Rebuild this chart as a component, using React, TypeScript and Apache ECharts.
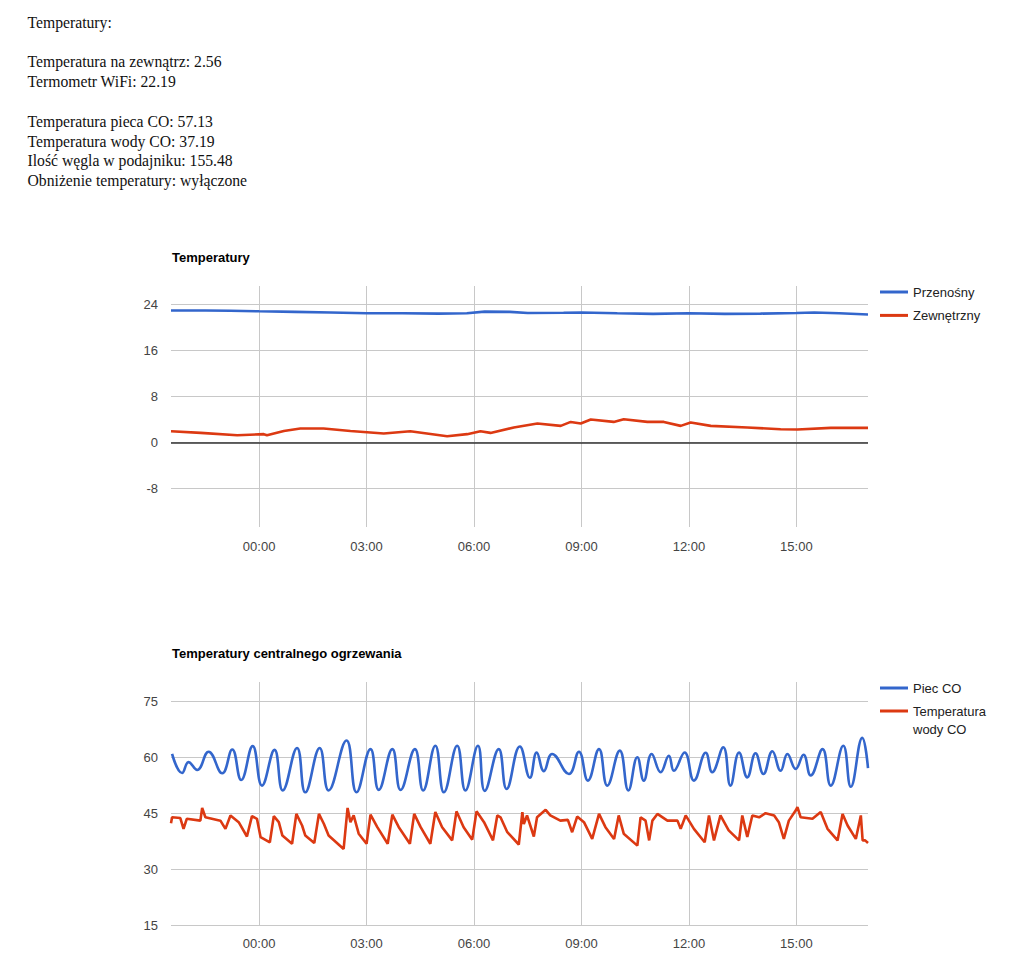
import React, { useEffect, useRef } from "react";
import * as echarts from "echarts";

const FONT = '"Liberation Sans", Arial, sans-serif';

// Readouts shown above the charts
const readoutLines = [
  "Temperatury:",
  "",
  "Temperatura na zewnątrz: 2.56",
  "Termometr WiFi: 22.19",
  "",
  "Temperatura pieca CO: 57.13",
  "Temperatura wody CO: 37.19",
  "Ilość węgla w podajniku: 155.48",
  "Obniżenie temperatury: wyłączone",
];

// x axis: hours relative to midnight
const X_MIN = -2.46;
const X_MAX = 17.0;
const X_TICKS = [0, 3, 6, 9, 12, 15];
const Y1_TICKS = [-8, 0, 8, 16, 24];
const Y2_TICKS = [15, 30, 45, 60, 75];

// Chart 1: Temperatury  [hour, °C]
const przenosny: [number, number][] = [
  [-2.46, 22.95], [-1.5, 22.95], [-0.8, 22.9], [0, 22.8], [1.0, 22.7], [2.0, 22.6],
  [3.0, 22.45], [4.0, 22.45], [5.0, 22.4], [5.8, 22.45], [6.3, 22.75], [7.0, 22.7],
  [7.5, 22.5], [8.5, 22.55], [9.0, 22.6], [10.0, 22.45], [11.0, 22.35], [12.0, 22.45],
  [13.0, 22.35], [14.0, 22.4], [15.0, 22.5], [15.5, 22.6], [16.2, 22.45], [17.0, 22.25],
];

const zewnetrzny: [number, number][] = [
  [-2.46, 1.95], [-1.63, 1.66], [-0.61, 1.26], [0.13, 1.44], [0.22, 1.26], [0.69, 2.0],
  [1.15, 2.42], [1.8, 2.42], [2.55, 2.0], [3.48, 1.55], [4.22, 1.95], [5.25, 1.09],
  [5.81, 1.44], [6.18, 1.95], [6.46, 1.66], [7.11, 2.6], [7.77, 3.29], [8.42, 2.88],
  [8.7, 3.57], [8.98, 3.29], [9.26, 3.98], [9.9, 3.57], [10.18, 4.03], [10.84, 3.57],
  [11.3, 3.57], [11.77, 2.88], [12.05, 3.46], [12.61, 2.88], [13.63, 2.6], [14.56, 2.3],
  [15.03, 2.25], [15.96, 2.53], [17.0, 2.53],
];

// Chart 2: Temperatury centralnego ogrzewania  [hour, °C]
const piecCO: [number, number][] = [
  [-2.43, 60.9], [-2.15, 55.8], [-1.97, 58.7], [-1.73, 56.6], [-1.41, 61.5], [-1.03, 55.7],
  [-0.75, 62.1], [-0.5, 53.9], [-0.18, 63.0], [0.08, 52.4], [0.43, 62.0], [0.66, 51.1],
  [1.06, 62.5], [1.29, 50.6], [1.69, 62.5], [1.94, 51.1], [2.44, 64.5], [2.72, 50.6],
  [3.11, 62.2], [3.34, 51.25], [3.72, 62.2], [3.95, 51.25], [4.35, 62.2], [4.58, 51.1],
  [4.92, 63.1], [5.16, 50.6], [5.53, 63.1], [5.76, 51.1], [6.11, 63.1], [6.3, 51.0],
  [6.69, 62.2], [6.91, 51.5], [7.28, 62.9], [7.56, 54.5], [7.75, 61.3], [7.95, 56.3],
  [8.18, 60.9], [8.65, 55.5], [8.93, 61.5], [9.18, 53.75], [9.49, 62.2], [9.72, 52.4],
  [10.07, 61.8], [10.31, 51.1], [10.56, 60.0], [10.74, 53.75], [10.96, 60.9], [11.21, 56.0],
  [11.44, 60.4], [11.58, 56.4], [11.88, 61.3], [12.14, 53.75], [12.47, 61.2], [12.65, 56.0],
  [12.96, 62.7], [13.16, 52.4], [13.4, 61.3], [13.63, 54.6], [13.86, 61.1], [14.08, 55.5],
  [14.33, 61.6], [14.56, 56.4], [14.75, 60.9], [14.98, 56.9], [15.2, 60.7], [15.4, 55.1],
  [15.73, 62.2], [15.96, 52.4], [16.31, 63.1], [16.52, 52.1], [16.84, 65.2], [17.0, 57.1],
];

const wodaCO: [number, number][] = [
  [-2.46, 42.3], [-2.43, 43.9], [-2.2, 43.7], [-2.11, 40.8], [-2.02, 43.5], [-1.64, 43.0],
  [-1.59, 46.4], [-1.5, 43.9], [-1.08, 43.0], [-0.94, 40.8], [-0.8, 44.4], [-0.57, 42.6],
  [-0.34, 38.75], [-0.2, 44.2], [-0.06, 43.5], [0.04, 38.6], [0.3, 37.2], [0.41, 44.2],
  [0.55, 42.6], [0.65, 39.0], [0.92, 36.8], [1.04, 44.8], [1.2, 41.7], [1.29, 39.0],
  [1.54, 37.0], [1.67, 44.8], [1.81, 42.1], [1.94, 39.0], [2.36, 35.4], [2.47, 46.4],
  [2.55, 42.6], [2.64, 44.4], [2.78, 39.5], [3.0, 36.8], [3.11, 44.6], [3.3, 41.25],
  [3.59, 36.8], [3.72, 44.6], [3.9, 41.25], [4.21, 36.8], [4.33, 44.8], [4.51, 41.25],
  [4.78, 36.8], [4.92, 45.3], [5.11, 41.25], [5.39, 37.7], [5.51, 45.5], [5.71, 41.25],
  [5.95, 37.9], [6.07, 45.5], [6.28, 42.6], [6.53, 37.7], [6.65, 44.4], [6.74, 43.9],
  [6.93, 39.9], [7.25, 36.6], [7.35, 45.3], [7.39, 42.1], [7.48, 44.4], [7.67, 38.75],
  [7.76, 43.9], [8.0, 45.9], [8.13, 44.4], [8.41, 43.0], [8.62, 43.2], [8.74, 39.9],
  [8.88, 44.1], [9.07, 42.6], [9.3, 38.1], [9.49, 44.8], [9.67, 41.25], [9.91, 38.1],
  [10.04, 44.4], [10.18, 39.5], [10.56, 36.3], [10.65, 43.9], [10.79, 43.0], [10.89, 37.7],
  [10.98, 43.0], [11.12, 44.8], [11.4, 43.0], [11.68, 43.0], [11.77, 40.8], [11.91, 44.4],
  [12.14, 40.8], [12.44, 37.2], [12.56, 44.4], [12.7, 37.7], [12.88, 44.4], [13.11, 40.4],
  [13.4, 37.7], [13.49, 44.4], [13.63, 38.6], [13.77, 44.4], [13.96, 43.9], [14.14, 45.0],
  [14.38, 44.4], [14.51, 42.6], [14.65, 38.1], [14.79, 43.0], [14.98, 45.7], [15.03, 46.6],
  [15.12, 43.9], [15.45, 43.5], [15.68, 45.3], [15.87, 40.8], [16.15, 37.7], [16.29, 44.8],
  [16.43, 41.7], [16.66, 38.1], [16.8, 44.4], [16.85, 37.7], [16.92, 37.7], [17.0, 37.0],
];

const BLUE = "#3366cc";
const RED = "#dc3912";

function xAxisFor(gridIndex: number, margin: number) {
  return {
    gridIndex,
    type: "value",
    min: X_MIN,
    max: X_MAX,
    axisLine: { show: false },
    axisTick: { show: false, customValues: X_TICKS },
    axisLabel: {
      customValues: X_TICKS,
      formatter: (v: number) => String(v).padStart(2, "0") + ":00",
      color: "#444",
      fontSize: 13,
      fontFamily: FONT,
      margin,
    },
    splitLine: { show: true, lineStyle: { color: "#c8c8c8", width: 1 } },
  };
}

function yAxisFor(gridIndex: number, min: number, max: number, ticks: number[]) {
  return {
    gridIndex,
    type: "value",
    min,
    max,
    axisLine: { show: false },
    axisTick: { show: false, customValues: ticks },
    axisLabel: {
      customValues: ticks,
      color: "#444",
      fontSize: 13,
      fontFamily: FONT,
      margin: 13,
    },
    splitLine: { show: true, lineStyle: { color: "#c8c8c8", width: 1 } },
  };
}

function lineSeries(name: string, data: [number, number][], color: string, axisIndex: number, smooth: number | boolean) {
  return {
    name,
    type: "line",
    xAxisIndex: axisIndex,
    yAxisIndex: axisIndex,
    data,
    showSymbol: false,
    smooth,
    color,
    lineStyle: { color, width: 2.6 },
  };
}

const legendText = { color: "#222", fontSize: 13, fontFamily: FONT, lineHeight: 16 };

export default function App() {
  const ref = useRef<HTMLDivElement>(null);

  useEffect(() => {
    if (!ref.current) return;
    const chart = echarts.init(ref.current, undefined, { renderer: "svg" });
    const zeroSeries: any = lineSeries("Zewnętrzny", zewnetrzny, RED, 0, false);
    zeroSeries.markLine = {
      silent: true,
      symbol: "none",
      label: { show: false },
      lineStyle: { color: "#333", width: 1.5, type: "solid" },
      data: [{ yAxis: 0 }],
    };
    chart.setOption({
      animation: false,
      backgroundColor: "#fff",
      title: [
        {
          text: "Temperatury",
          left: 172,
          top: 250,
          padding: 0,
          textStyle: { fontSize: 13, fontWeight: "bold", color: "#000", fontFamily: FONT, lineHeight: 14 },
        },
        {
          text: "Temperatury centralnego ogrzewania",
          left: 172,
          top: 646,
          padding: 0,
          textStyle: { fontSize: 13, fontWeight: "bold", color: "#000", fontFamily: FONT, lineHeight: 14 },
        },
      ],
      legend: [
        {
          data: ["Przenośny", "Zewnętrzny"],
          orient: "vertical",
          left: 880,
          top: 284,
          padding: 0,
          itemGap: 7.4,
          itemWidth: 28,
          itemHeight: 3,
          icon: "rect",
          textStyle: legendText,
          selectedMode: false,
        },
        {
          data: ["Piec CO"],
          orient: "vertical",
          left: 880,
          top: 680,
          padding: 0,
          itemWidth: 28,
          itemHeight: 3,
          icon: "rect",
          textStyle: legendText,
          selectedMode: false,
        },
        {
          data: ["Temperatura wody CO"],
          orient: "vertical",
          left: 880,
          top: 684,
          padding: 0,
          itemWidth: 28,
          itemHeight: 3,
          icon: "rect",
          formatter: () => "{e|}\nTemperatura\nwody CO",
          textStyle: { ...legendText, lineHeight: 18, rich: { e: { lineHeight: 18, fontSize: 13 } } },
          selectedMode: false,
        },
      ],
      grid: [
        { left: 171, top: 286, width: 697, height: 241, containLabel: false, outerBoundsMode: "none" },
        { left: 171, top: 682, width: 697, height: 243, containLabel: false, outerBoundsMode: "none" },
      ],
      xAxis: [xAxisFor(0, 13), xAxisFor(1, 12)],
      yAxis: [yAxisFor(0, -14.7, 27.2, Y1_TICKS), yAxisFor(1, 15, 80.2, Y2_TICKS)],
      series: [
        lineSeries("Przenośny", przenosny, BLUE, 0, false),
        zeroSeries,
        lineSeries("Piec CO", piecCO, BLUE, 1, 0.45),
        lineSeries("Temperatura wody CO", wodaCO, RED, 1, false),
      ],
    });
    return () => chart.dispose();
  }, []);

  return (
    <div style={{ position: "absolute", left: 0, top: 0, width: 1024, height: 963, background: "#fff" }}>
      <div ref={ref} style={{ position: "absolute", left: 0, top: 0, width: 1024, height: 963 }} />
      <div
        style={{
          position: "absolute",
          left: 27.5,
          top: 12.8,
          fontFamily: '"Liberation Serif", "Times New Roman", serif',
          fontSize: 15.7,
          lineHeight: "19.8px",
          color: "#111",
          whiteSpace: "pre",
        }}
      >
        {readoutLines.map((l, i) => (
          <div key={i} style={{ height: 19.8 }}>{l}</div>
        ))}
      </div>
    </div>
  );
}
